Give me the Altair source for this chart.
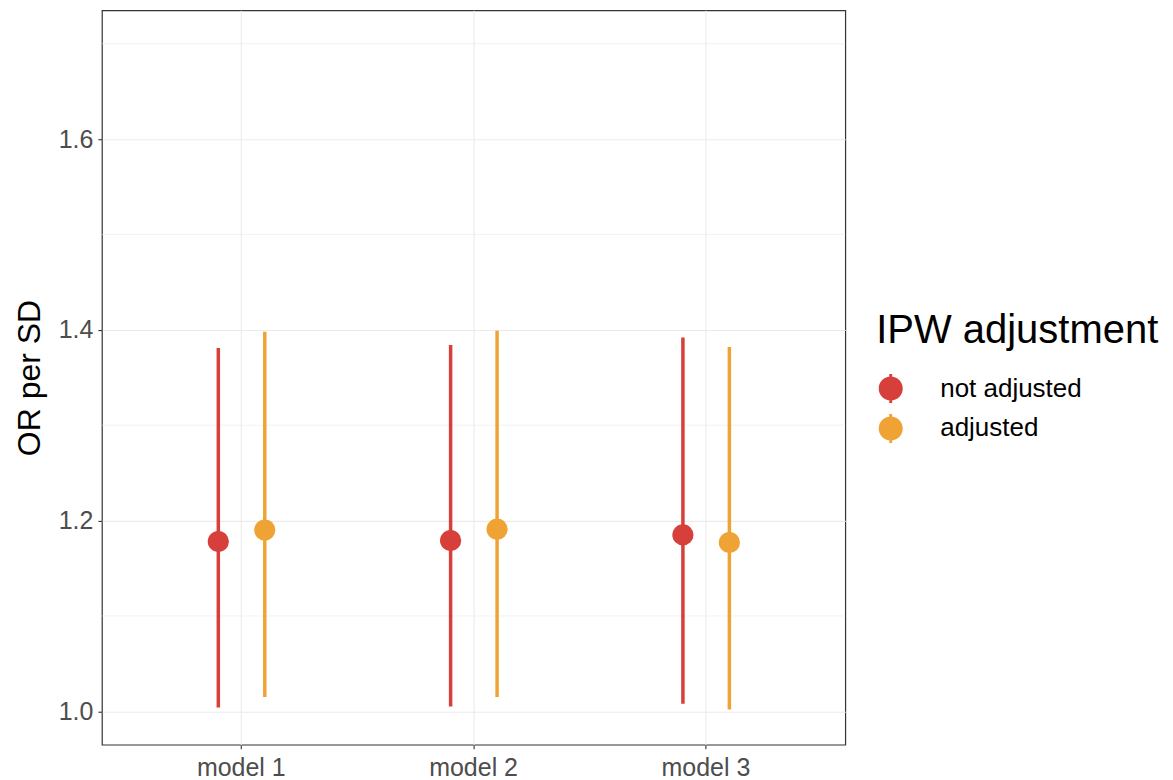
import altair as alt
import pandas as pd

models = ["model 1", "model 2", "model 3"]
groups = ["not adjusted", "adjusted"]

est_not = [1.178, 1.179, 1.185]
lo_not = [1.004, 1.005, 1.008]
hi_not = [1.381, 1.384, 1.392]

est_adj = [1.190, 1.191, 1.177]
lo_adj = [1.015, 1.015, 1.002]
hi_adj = [1.398, 1.399, 1.382]

major_ticks = [1.0, 1.2, 1.4, 1.6]
minor_ticks = [1.1, 1.3, 1.5, 1.7]

RED = "#D63F3A"
ORANGE = "#EFA335"
GRID = "#EBEBEB"

rows = []
for i, m in enumerate(models):
    rows.append({"model": m, "group": groups[0], "est": est_not[i], "lo": lo_not[i], "hi": hi_not[i]})
    rows.append({"model": m, "group": groups[1], "est": est_adj[i], "lo": lo_adj[i], "hi": hi_adj[i]})
df = pd.DataFrame(rows)

yscale = alt.Scale(domain=[0.965, 1.735], nice=False, zero=False)
xscale = alt.Scale(domain=models, paddingInner=0, paddingOuter=0.1)
offscale = alt.Scale(domain=groups, paddingInner=0, paddingOuter=0, range=[70, 163])
cscale = alt.Scale(domain=groups, range=[RED, ORANGE])

key_path = ("M-0.1,-1L0.1,-1L0.1,1L-0.1,1Z "
            "M-0.83,0A0.83,0.83 0 1,1 0.83,0A0.83,0.83 0 1,1 -0.83,0Z")

legend = alt.Legend(
    title="IPW adjustment", titleFontSize=40, titleFontWeight="normal",
    titleColor="black", titleFont="Liberation Sans", titlePadding=23,
    titleLimit=600,
    labelFontSize=26, labelColor="black", labelFont="Liberation Sans",
    labelOffset=35, rowPadding=11, padding=0, labelLimit=400,
    symbolType=key_path, symbolSize=841, symbolStrokeWidth=0,
    symbolOpacity=1,
    orient="none", legendX=775, legendY=301)

xaxis = alt.Axis(title=None, labelAngle=0, bandPosition=0.5, grid=True,
                 gridColor=GRID, gridWidth=1.1, domain=False,
                 ticks=True, tickColor="#333333", tickSize=4, tickWidth=1.1,
                 labelFontSize=25, labelColor="#4D4D4D", labelPadding=7,
                 labelFont="Liberation Sans")
yaxis = alt.Axis(title="OR per SD", values=major_ticks, format=".1f", grid=True,
                 gridColor=GRID, gridWidth=1.1, domain=False,
                 ticks=True, tickColor="#333333", tickSize=4, tickWidth=1.1,
                 labelFontSize=25, labelColor="#4D4D4D", labelPadding=5,
                 labelFont="Liberation Sans",
                 titleFontSize=32, titleFontWeight="normal", titleColor="black",
                 titleFont="Liberation Sans", titlePadding=12)

minor = alt.Chart(pd.DataFrame({"v": minor_ticks})).mark_rule(
    color=GRID, strokeWidth=0.6
).encode(y=alt.Y("v:Q", scale=yscale, axis=yaxis))

base = alt.Chart(df).encode(
    x=alt.X("model:N", scale=xscale, axis=xaxis, sort=models),
    xOffset=alt.XOffset("group:N", scale=offscale, sort=groups),
    color=alt.Color("group:N", scale=cscale, sort=groups, legend=legend),
)

rules = base.mark_rule(strokeWidth=3.5).encode(
    y=alt.Y("lo:Q", scale=yscale, axis=yaxis),
    y2="hi:Q",
)

points = base.mark_circle(size=450, opacity=1).encode(
    y=alt.Y("est:Q", scale=yscale, axis=yaxis),
)

chart = alt.layer(minor, rules, points).properties(
    width=744, height=735,
    autosize=alt.AutoSizeParams(type="none"),
    padding={"left": 94, "top": 2, "right": 320, "bottom": 40},
).configure(font="Liberation Sans").configure_view(
    stroke="#333333", strokeWidth=1.2
)

chart.save("out.html", embed_options={"renderer": "svg", "actions": False})
